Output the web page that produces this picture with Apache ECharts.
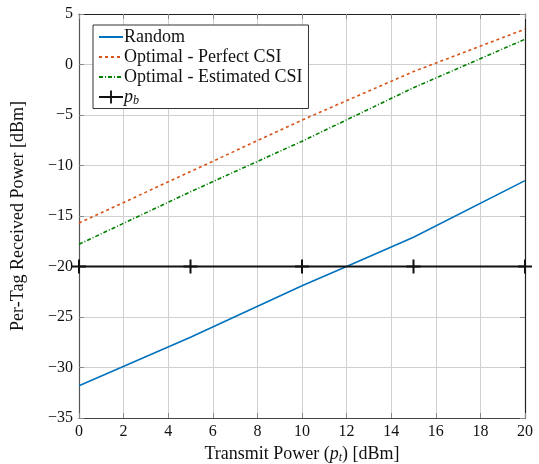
<!DOCTYPE html>
<html>
<head>
<meta charset="utf-8">
<script src="https://cdn.jsdelivr.net/npm/echarts@6/dist/echarts.min.js"></script>
<style>
  html, body { margin: 0; padding: 0; background: #fff; }
  #chart { width: 539px; height: 464px; }
</style>
</head>
<body>
<div id="chart"></div>
<script>
// data
var xRandom = [0, 5, 10, 12, 15, 20];
var yRandom = [-31.8, -27.0, -21.9, -20.0, -17.1, -11.5];

var xOpt = [0, 5, 10, 15, 20];
var yPerfect = [-15.7, -10.6, -5.5, -0.7, 3.5];
var yEstimated = [-17.8, -12.6, -7.6, -2.3, 2.5];

var xPb = [0, 5, 10, 15, 20];
var yPb = [-20, -20, -20, -20, -20];

var seriesNames = ['Random', 'Optimal - Perfect CSI', 'Optimal - Estimated CSI', 'pb'];

function pairs(xs, ys) {
  return xs.map(function (x, i) { return [x, ys[i]]; });
}

var font = 'Liberation Serif';
var minus = function (v) { return v < 0 ? '\u2212' + Math.abs(v) : String(v); };
var plusPath = 'path://M6,0h2v6h6v2h-6v6h-2v-6h-6v-2h6z';

var myChart = echarts.init(document.getElementById('chart'));

var option = {
  animation: false,
  backgroundColor: '#fff',
  grid: { left: 79, right: 14, top: 14, bottom: 46, outerBoundsMode: 'none', containLabel: false },
  legend: {
    orient: 'vertical',
    left: 93,
    top: 25,
    padding: [3, 6, 2, 5],
    itemGap: 2,
    itemWidth: 24,
    itemHeight: 16,
    borderColor: '#333',
    borderWidth: 1,
    borderRadius: 0,
    backgroundColor: '#fff',
    itemStyle: { opacity: 0 },
    data: [
      { name: seriesNames[0] },
      { name: seriesNames[1] },
      { name: seriesNames[2] },
      { name: seriesNames[3], itemStyle: { opacity: 1 } }
    ],
    formatter: function (name) {
      if (name === 'pb') return '{i|p}{s|b}';
      return name;
    },
    textStyle: {
      fontFamily: font,
      fontSize: 18,
      color: '#111',
      padding: [0, 0, 0, -4],
      rich: {
        i: { fontFamily: font, fontStyle: 'italic', fontSize: 18, color: '#111' },
        s: { fontFamily: font, fontStyle: 'italic', fontSize: 12, color: '#111', padding: [7, 0, 0, 0] }
      }
    }
  },
  xAxis: [
    {
      type: 'value',
      min: 0, max: 20, interval: 2,
      name: '{n|Transmit Power (}{i|p}{s|t}{n|) [dBm]}',
      nameLocation: 'middle',
      nameGap: 26,
      nameTextStyle: {
        rich: {
          n: { fontFamily: font, fontSize: 18, color: '#111' },
          i: { fontFamily: font, fontStyle: 'italic', fontSize: 18, color: '#111' },
          s: { fontFamily: font, fontStyle: 'italic', fontSize: 12, color: '#111', padding: [7, 0, 0, 0] }
        }
      },
      axisLine: { show: true, onZero: false, lineStyle: { color: '#444', width: 1.2 } },
      axisTick: { show: true, inside: true, length: 5, lineStyle: { color: '#888' } },
      axisLabel: { fontFamily: font, fontSize: 16, color: '#111', margin: 6, formatter: minus },
      splitLine: { show: true, lineStyle: { color: '#d0d0d0', width: 1 } }
    },
    {
      type: 'value', position: 'top',
      min: 0, max: 20, interval: 2,
      axisLine: { show: true, onZero: false, lineStyle: { color: '#222', width: 1.2 } },
      axisTick: { show: true, inside: true, length: 5, lineStyle: { color: '#888' } },
      axisLabel: { show: false },
      splitLine: { show: false }
    }
  ],
  yAxis: [
    {
      type: 'value',
      min: -35, max: 5, interval: 5,
      name: 'Per-Tag Received Power [dBm]',
      nameLocation: 'middle',
      nameGap: 52,
      nameTextStyle: { fontFamily: font, fontSize: 18, color: '#111' },
      axisLine: { show: true, onZero: false, lineStyle: { color: '#555', width: 1.2 } },
      axisTick: { show: true, inside: true, length: 5, lineStyle: { color: '#888' } },
      axisLabel: { fontFamily: font, fontSize: 16, color: '#111', margin: 6, formatter: minus },
      splitLine: { show: true, lineStyle: { color: '#d0d0d0', width: 1 } }
    },
    {
      type: 'value', position: 'right',
      min: -35, max: 5, interval: 5,
      axisLine: { show: true, onZero: false, lineStyle: { color: '#222', width: 1.2 } },
      axisTick: { show: true, inside: true, length: 5, lineStyle: { color: '#888' } },
      axisLabel: { show: false },
      splitLine: { show: false }
    }
  ],
  series: [
    {
      name: 'Random',
      type: 'line',
      symbol: 'none',
      color: '#0072BD',
      lineStyle: { color: '#0072BD', width: 1.6 },
      data: pairs(xRandom, yRandom),
      z: 3
    },
    {
      name: 'Optimal - Perfect CSI',
      type: 'line',
      symbol: 'none',
      color: '#D95319',
      lineStyle: { color: '#D95319', width: 1.6, type: [3, 3] },
      data: pairs(xOpt, yPerfect),
      z: 3
    },
    {
      name: 'Optimal - Estimated CSI',
      type: 'line',
      symbol: 'none',
      color: '#008000',
      lineStyle: { color: '#008000', width: 1.6, type: [4, 2, 1, 2] },
      data: pairs(xOpt, yEstimated),
      z: 3
    },
    {
      name: 'pb',
      type: 'line',
      clip: false,
      symbol: plusPath,
      symbolSize: 14,
      color: '#111',
      itemStyle: { color: '#111' },
      lineStyle: { color: '#111', width: 1.8 },
      data: pairs(xPb, yPb),
      z: 4
    }
  ]
};

myChart.setOption(option);
</script>
</body>
</html>
